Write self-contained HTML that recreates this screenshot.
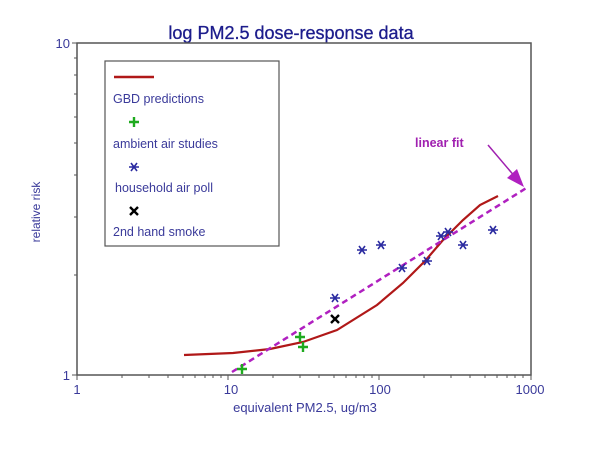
<!DOCTYPE html>
<html><head><style>body{margin:0;background:#fff}svg{display:block}</style></head><body>
<svg width="600" height="455" xmlns="http://www.w3.org/2000/svg" font-family="Liberation Sans, sans-serif">
<defs>
<g id="ast"><path d="M-5,0H5M-3,-4L3,4M-3,4L3,-4" stroke="#2a2aa0" stroke-width="1.6"/></g>
<g id="pl"><path d="M-5,0H5M0,-5V5" stroke="#1faa1f" stroke-width="2.4"/></g>
<g id="xx"><path d="M-4,-4L4,4M-4,4L4,-4" stroke="#000" stroke-width="2.4"/></g>
</defs>
<rect width="600" height="455" fill="#fff"/>
<text x="291" y="39" text-anchor="middle" font-size="18" fill="#1c1c8c" stroke="#1c1c8c" stroke-width="0.3">log PM2.5 dose-response data</text>
<rect x="77" y="43" width="454" height="332" fill="none" stroke="#555" stroke-width="1.5"/>
<g stroke="#555" stroke-width="1">
<line x1="72" y1="375" x2="77" y2="375"/><line x1="72" y1="43" x2="77" y2="43"/>
<line x1="74" y1="275" x2="77" y2="275"/><line x1="74" y1="217" x2="77" y2="217"/>
<line x1="74" y1="175" x2="77" y2="175"/><line x1="74" y1="143" x2="77" y2="143"/>
<line x1="74" y1="117" x2="77" y2="117"/><line x1="74" y1="94" x2="77" y2="94"/>
<line x1="74" y1="75" x2="77" y2="75"/><line x1="74" y1="58" x2="77" y2="58"/>
<g id="dx">
<line x1="77" y1="375" x2="77" y2="380"/>
<line x1="122" y1="375" x2="122" y2="378"/><line x1="149" y1="375" x2="149" y2="378"/>
<line x1="168" y1="375" x2="168" y2="378"/><line x1="183" y1="375" x2="183" y2="378"/>
<line x1="195" y1="375" x2="195" y2="378"/><line x1="205" y1="375" x2="205" y2="378"/>
<line x1="213" y1="375" x2="213" y2="378"/><line x1="221" y1="375" x2="221" y2="378"/>
</g>
<use href="#dx" x="151"/><use href="#dx" x="302"/>
<line x1="531" y1="375" x2="531" y2="380"/>
</g>
<g fill="#3a3a9a" font-size="13">
<text x="70" y="48" text-anchor="end">10</text>
<text x="70" y="380" text-anchor="end">1</text>
<text x="77" y="394" text-anchor="middle">1</text>
<text x="231" y="394" text-anchor="middle">10</text>
<text x="380" y="394" text-anchor="middle">100</text>
<text x="530" y="394" text-anchor="middle">1000</text>
<text x="305" y="412" text-anchor="middle">equivalent PM2.5, ug/m3</text>
<text transform="translate(40,212) rotate(-90)" text-anchor="middle" font-size="12">relative risk</text>
</g>
<rect x="105" y="61" width="174" height="185" fill="#fff" stroke="#555" stroke-width="1.2"/>
<line x1="114" y1="77" x2="154" y2="77" stroke="#b01818" stroke-width="2.5"/>
<g fill="#3a3a9a" font-size="12.5">
<text x="113" y="103">GBD predictions</text>
<text x="113" y="148">ambient air studies</text>
<text x="115" y="192">household air poll</text>
<text x="113" y="236">2nd hand smoke</text>
</g>
<use href="#pl" x="134" y="122"/>
<use href="#ast" x="134" y="167"/>
<use href="#xx" x="134" y="211"/>
<polyline points="184,355 233,353 270,349 303,342 337,330 377,305 403,283 425,261 443,240 463,220 480,205 498,196" fill="none" stroke="#b01818" stroke-width="2.2"/>
<line x1="232" y1="372" x2="528" y2="187" stroke="#b020c0" stroke-width="2.5" stroke-dasharray="6,4"/>
<text x="415" y="147" fill="#a020b0" font-size="12.5" font-weight="bold">linear fit</text>
<line x1="488" y1="145" x2="516" y2="178" stroke="#a020b0" stroke-width="1.5"/>
<polygon points="524,187 507,178 517,169" fill="#b020c0"/>
<use href="#pl" x="242" y="369"/><use href="#pl" x="300" y="337"/><use href="#pl" x="303" y="347"/>
<use href="#xx" x="335" y="319"/>
<use href="#ast" x="335" y="298"/><use href="#ast" x="362" y="250"/><use href="#ast" x="381" y="245"/>
<use href="#ast" x="402" y="268"/><use href="#ast" x="427" y="261"/><use href="#ast" x="441" y="236"/>
<use href="#ast" x="448" y="232"/><use href="#ast" x="463" y="245"/><use href="#ast" x="493" y="230"/>
</svg>
</body></html>
